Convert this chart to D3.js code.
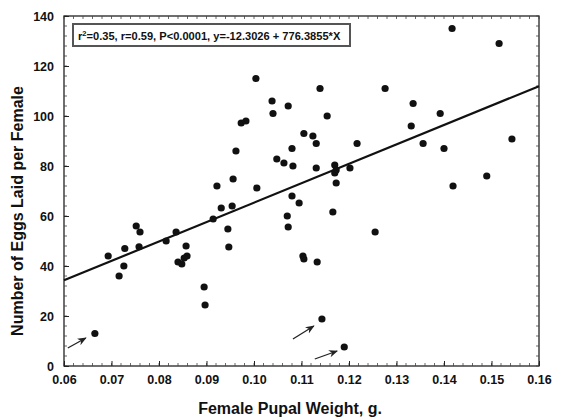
<!DOCTYPE html>
<html><head><meta charset="utf-8">
<script src="https://cdn.jsdelivr.net/npm/d3@7"></script>
<style>body{margin:0;background:#fff}svg{display:block}text{font-family:"Liberation Sans",Arial,sans-serif;font-weight:bold}</style>
</head><body><svg id="c" width="563" height="417"></svg>
<script>
const pupalWeight = [0.0665,0.0693,0.0716,0.0726,0.0728,0.0752,0.0760,0.0758,0.0815,0.0836,0.0857,0.0859,0.0840,0.0848,0.0853,0.0895,0.0897,0.0914,0.0922,0.0931,0.0954,0.0945,0.0947,0.0956,0.0962,0.0973,0.0983,0.1006,0.1004,0.1139,0.1276,0.1038,0.1040,0.1072,0.1154,0.1105,0.1124,0.1131,0.1217,0.1080,0.1048,0.1063,0.1082,0.1131,0.1170,0.1173,0.1170,0.1202,0.1173,0.1080,0.1095,0.1070,0.1072,0.1166,0.1255,0.1103,0.1105,0.1133,0.1143,0.1190,0.1417,0.1516,0.1335,0.1392,0.1331,0.1356,0.1400,0.1543,0.1490,0.1419];
const eggsLaid = [13,44,36,40,47,56,53.6,47.7,50,53.6,48,44,41.6,40.8,43.2,31.6,24.4,58.8,72,63.2,64,54.8,47.6,74.8,86,97.2,98,71.2,115,111,111,106,101,104,100,93,92,89,89,87,82.8,81.2,80,79.2,80.4,78.4,77.2,79.2,73.2,68,65.2,60,55.6,61.6,53.6,44,42.8,41.6,18.8,7.6,135,129,105,101,96,89,87,90.8,76,72];
const xTicks = [0.06,0.07,0.08,0.09,0.10,0.11,0.12,0.13,0.14,0.15,0.16];
const yTicks = [0,20,40,60,80,100,120,140];
const intercept = -12.3026, slope = 776.3855;
const statsLabel = "=0.35, r=0.59, P<0.0001, y=-12.3026 + 776.3855*X";
const arrowsFrom = [[0.0608,7.2],[0.1082,10.8],[0.1128,2.8]];
const arrowsTo = [[0.0646,11.2],[0.1126,16],[0.1175,6]];

const svg = d3.select("#c");
const L=64, R=539, T=16, B=366;
const x = d3.scaleLinear().domain([0.06,0.16]).range([L,R]);
const y = d3.scaleLinear().domain([0,140]).range([B,T]);

svg.append("defs").append("marker").attr("id","ah").attr("viewBox","0 0 10 10")
  .attr("refX",9).attr("refY",5).attr("markerWidth",7).attr("markerHeight",7).attr("orient","auto")
  .append("path").attr("d","M0,1 L10,5 L0,9 L3,5 Z").attr("fill","#222");

svg.append("rect").attr("x",L).attr("y",T).attr("width",R-L).attr("height",B-T)
  .attr("fill","none").attr("stroke","#222").attr("stroke-width",1.3);

const xMinor = d3.range(0.06,0.1601,0.002);
const yMinor = d3.range(0,140.01,4);
const g = svg.append("g").attr("stroke","#444").attr("stroke-width",0.8);
xMinor.forEach(v=>{
  g.append("line").attr("x1",x(v)).attr("x2",x(v)).attr("y1",B).attr("y2",B-3);
  g.append("line").attr("x1",x(v)).attr("x2",x(v)).attr("y1",T).attr("y2",T+3);
});
yMinor.forEach(v=>{
  g.append("line").attr("x1",L).attr("x2",L+3).attr("y1",y(v)).attr("y2",y(v));
  g.append("line").attr("x1",R).attr("x2",R-3).attr("y1",y(v)).attr("y2",y(v));
});

const xa = svg.append("g").attr("transform",`translate(0,${B})`)
  .call(d3.axisBottom(x).tickValues(xTicks).tickFormat(d3.format(".2f")).tickSizeInner(-5).tickSizeOuter(0).tickPadding(9));
xa.select(".domain").remove();
xa.selectAll("text").attr("font-size",12.5).attr("fill","#111");
xa.selectAll("line").attr("stroke","#222");
const ya = svg.append("g").attr("transform",`translate(${L},0)`)
  .call(d3.axisLeft(y).tickValues(yTicks).tickSizeInner(-5).tickSizeOuter(0).tickPadding(10));
ya.select(".domain").remove();
ya.selectAll("text").attr("font-size",12.5).attr("fill","#111");
ya.selectAll("line").attr("stroke","#222");

svg.append("text").attr("x",290).attr("y",414).attr("text-anchor","middle")
  .attr("font-size",16).attr("fill","#111").text("Female Pupal Weight, g.");
svg.append("text").attr("transform",`translate(23,211) rotate(-90)`).attr("text-anchor","middle")
  .attr("font-size",16).attr("fill","#111").text("Number of Eggs Laid per Female");

svg.append("line").attr("x1",x(0.06)).attr("y1",y(intercept+slope*0.06))
  .attr("x2",x(0.16)).attr("y2",y(intercept+slope*0.16))
  .attr("stroke","#111").attr("stroke-width",2.2);

svg.append("g").selectAll("circle").data(pupalWeight.map((w,i)=>[w,eggsLaid[i]])).join("circle")
  .attr("cx",d=>x(d[0])).attr("cy",d=>y(d[1])).attr("r",3.6).attr("fill","#111");

arrowsFrom.forEach((f,i)=>{
  svg.append("line").attr("x1",x(f[0])).attr("y1",y(f[1])).attr("x2",x(arrowsTo[i][0])).attr("y2",y(arrowsTo[i][1]))
    .attr("stroke","#222").attr("stroke-width",1.3).attr("marker-end","url(#ah)");
});

svg.append("rect").attr("x",73).attr("y",24).attr("width",277).attr("height",22)
  .attr("fill","#fff").attr("stroke","#555").attr("stroke-width",2);
const t = svg.append("text").attr("x",78).attr("y",39.5).attr("font-size",11.1).attr("fill","#111");
t.append("tspan").text("r");
t.append("tspan").attr("dy",-4).attr("font-size",7.5).text("2");
t.append("tspan").attr("dy",4).text(statsLabel);
</script></body></html>
